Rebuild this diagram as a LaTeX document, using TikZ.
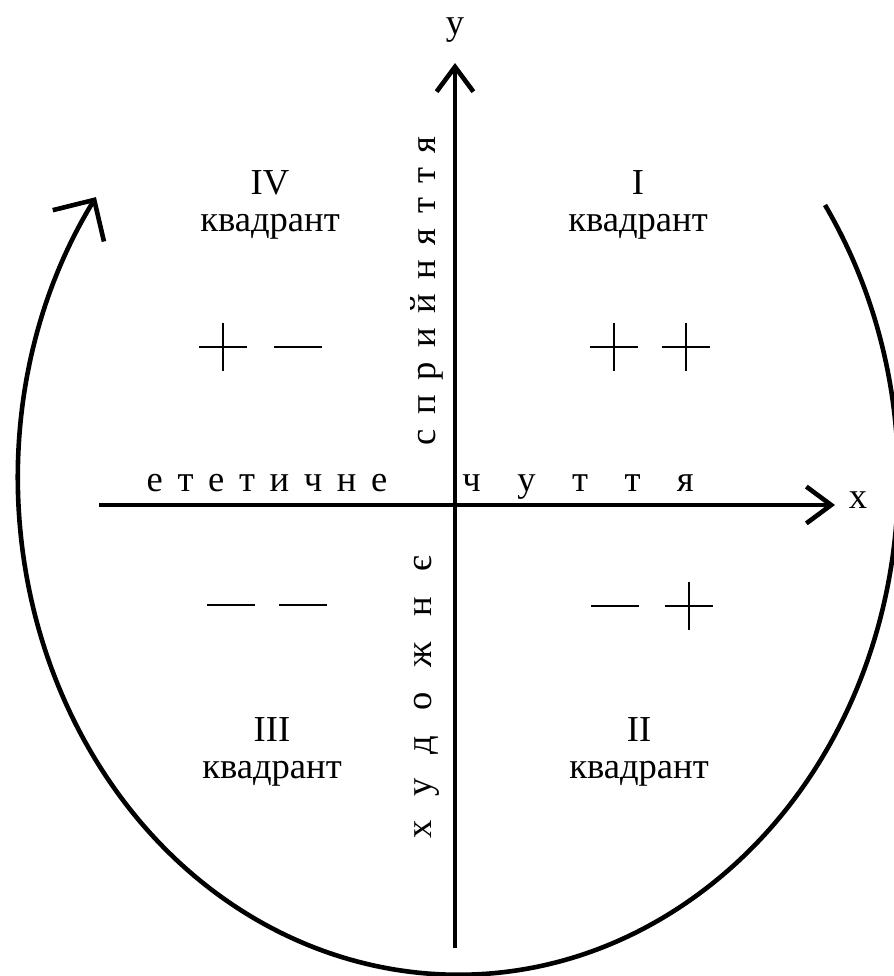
\documentclass[tikz,border=0pt]{standalone}
\usepackage{fontspec}
\setmainfont{Liberation Serif}
\newfontfamily\spacedfont[LetterSpace=40]{Liberation Serif}
\newfontfamily\widefont[LetterSpace=70]{Liberation Serif}
\newfontfamily\widerfont[LetterSpace=100]{Liberation Serif}
\usetikzlibrary{arrows.meta}

\begin{document}
\begin{tikzpicture}[
  x=0.025cm, y=0.025cm,
  axis/.style={line width=0.115cm, -{Straight Barb[length=0.62cm, width=0.92cm]}},
  ring/.style={line width=0.115cm, -{Straight Barb[length=0.76cm, width=1.5cm]}},
  sign/.style={line width=0.055cm},
  lab/.style={font=\fontsize{26}{26}\selectfont, inner sep=0pt},
  quad/.style={font=\fontsize{26}{26}\selectfont, align=center, inner sep=0pt},
  plussign/.pic={\draw[sign] (-24,0) -- (24,0) (0,-24) -- (0,24);},
  minussign/.pic={\draw[sign] (-24,0) -- (24,0);}
]
\useasboundingbox (0,0) rectangle (894,976);

%% ---- axes ----
\coordinate (ybot)   at (455, 28);
\coordinate (ytop)   at (455, 913);
\coordinate (xleft)  at (99, 471);
\coordinate (xright) at (835, 471);

\draw[axis] (ybot)  -- (ytop);
\draw[axis] (xleft) -- (xright);

\node[lab] (ylab) at (455, 946) {y};
\node[lab] (xlab) at (858, 476) {x};

%% ---- axis words ----
\node[lab, rotate=90] (sprlab)  at (427, 685) {\spacedfont сприйняття};
\node[lab, rotate=90] (khudlab) at (427, 279) {\widefont художнє};
\node[lab, anchor=base] (estlab)  at (267, 484) {\spacedfont ететичне};
\node[lab, anchor=base] (chutlab) at (578, 484) {\widerfont чуття};

%% ---- quadrants ----
\node[quad] (q1) at (638, 771) {I\\квадрант};
\node[quad] (q2) at (639, 224) {II\\квадрант};
\node[quad] (q3) at (272, 224) {III\\квадрант};
\node[quad] (q4) at (270, 771) {IV\\квадрант};

\pic at (223, 629) {plussign};
\pic at (298, 629) {minussign};
\pic at (614, 629) {plussign};
\pic at (686, 629) {plussign};
\pic at (231, 371) {minussign};
\pic at (303, 371) {minussign};
\pic at (615, 370) {minussign};
\pic at (689, 370) {plussign};

%% ---- cycle round the quadrants ----
\coordinate (arcstart) at (825, 771);
\draw[ring] (arcstart) arc[start angle=33.5, end angle=-214.6,
                            x radius=440, y radius=496];

\end{tikzpicture}
\end{document}
